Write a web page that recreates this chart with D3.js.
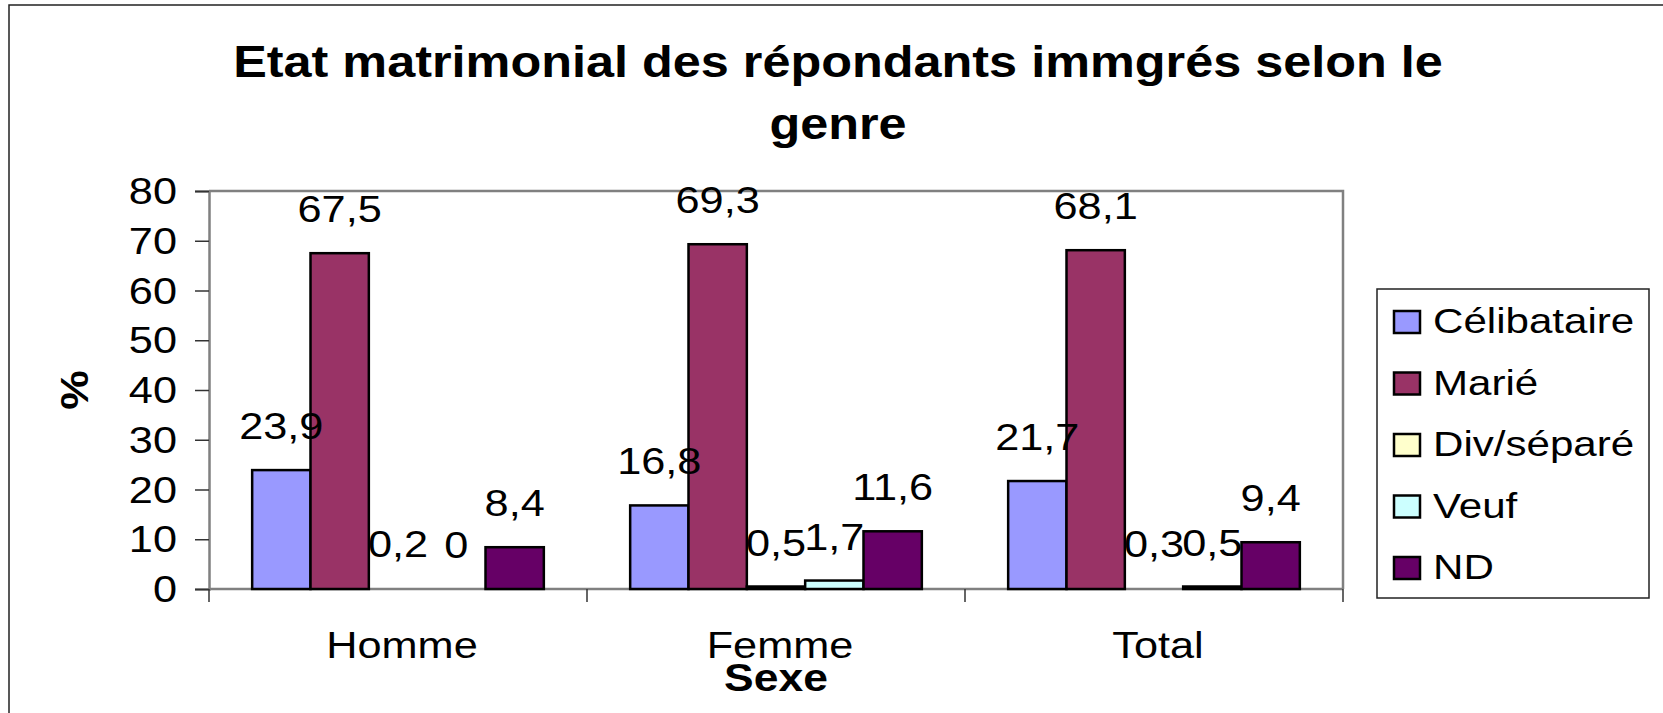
<!DOCTYPE html>
<html>
<head>
<meta charset="utf-8">
<script src="https://cdn.jsdelivr.net/npm/d3@7"></script>
<style>
  body { margin: 0; background: #fff; }
  text { font-family: Arial, "Liberation Sans", sans-serif; }
</style>
</head>
<body>
<div id="chart"></div>
<script>
// data
const categories = ["Homme", "Femme", "Total"];
const series = ["Célibataire", "Marié", "Div/séparé", "Veuf", "ND"];
const colors = ["#9999FF", "#993366", "#FFFFCC", "#CCFFFF", "#660066"];
const celibataire = [23.9, 16.8, 21.7];
const marie = [67.5, 69.3, 68.1];
const divSepare = [0.2, 0.5, 0.3];
const veuf = [0, 1.7, 0.5];
const nd = [8.4, 11.6, 9.4];
const yTicks = [0, 10, 20, 30, 40, 50, 60, 70, 80];

const values = [celibataire, marie, divSepare, veuf, nd];

const W = 1663, H = 713;
const plot = { left: 209, top: 191, right: 1343, bottom: 589 };
const SX = 1.17; // the source text is drawn a bit wider than Arial

const svg = d3.select("#chart").append("svg")
    .attr("width", W)
    .attr("height", H);

// helper: place a text horizontally widened
const place = (x, y, sx = SX) => `translate(${x},${y}) scale(${sx},1)`;

// outer chart frame
svg.append("rect")
    .attr("x", 9).attr("y", 5)
    .attr("width", W + 20).attr("height", H + 20)
    .attr("fill", "none")
    .attr("stroke", "#222")
    .attr("stroke-width", 1.5);

// scales
const x0 = d3.scaleBand()
    .domain(categories)
    .range([plot.left, plot.right]);

const x1 = d3.scaleBand()
    .domain(series)
    .range([0, x0.bandwidth()])
    .paddingOuter(0.74);

const y = d3.scaleLinear()
    .domain([0, 80])
    .range([plot.bottom, plot.top]);

// plot frame (top + right)
svg.append("path")
    .attr("d", `M${plot.left},${plot.top}H${plot.right}V${plot.bottom}`)
    .attr("fill", "none")
    .attr("stroke", "#808080")
    .attr("stroke-width", 2.5);

// y axis
const yAxis = svg.append("g")
    .attr("transform", `translate(${plot.left},0)`)
    .call(d3.axisLeft(y).tickValues(yTicks).tickSize(14));
yAxis.select(".domain").attr("stroke", "#808080").attr("stroke-width", 2.5);
yAxis.selectAll(".tick line").attr("stroke", "#333").attr("stroke-width", 1.5);
yAxis.selectAll(".tick text")
    .attr("x", null)
    .attr("transform", place(-32, 0))
    .attr("dy", "0.34em")
    .attr("font-size", 37)
    .attr("fill", "#000")
    .attr("font-family", "Arial, 'Liberation Sans', sans-serif");

// x axis line + category boundary ticks
svg.append("line")
    .attr("x1", plot.left).attr("x2", plot.right)
    .attr("y1", y(0)).attr("y2", y(0))
    .attr("stroke", "#808080")
    .attr("stroke-width", 2.5);

const bounds = categories.map(c => x0(c)).concat([x0(categories[categories.length - 1]) + x0.bandwidth()]);
svg.selectAll(".xtick")
  .data(bounds)
  .join("line")
    .attr("x1", d => d).attr("x2", d => d)
    .attr("y1", y(0)).attr("y2", y(0) + 13)
    .attr("stroke", "#333")
    .attr("stroke-width", 1.5);

svg.selectAll(".xlabel")
  .data(categories)
  .join("text")
    .attr("transform", d => place(x0(d) + x0.bandwidth() / 2 + 4, 658))
    .attr("text-anchor", "middle")
    .attr("font-size", 37)
    .text(d => d);

// bars
const barData = [];
categories.forEach((c, ci) => {
  series.forEach((s, si) => {
    barData.push({ cat: c, ser: s, si: si, v: values[si][ci] });
  });
});

svg.append("g")
  .selectAll("rect")
  .data(barData.filter(d => y(0) - y(d.v) >= 2))
  .join("rect")
    .attr("x", d => x0(d.cat) + x1(d.ser))
    .attr("y", d => y(d.v))
    .attr("width", x1.bandwidth())
    .attr("height", d => y(0) - y(d.v))
    .attr("fill", d => colors[d.si])
    .attr("stroke", "#000")
    .attr("stroke-width", 2.5);

// value labels
svg.append("g")
  .selectAll("text")
  .data(barData)
  .join("text")
    .attr("transform", d => place(x0(d.cat) + x1(d.ser) + x1.bandwidth() / 2, y(d.v) - 31))
    .attr("text-anchor", "middle")
    .attr("font-size", 37)
    .text(d => String(d.v).replace(".", ","));

// title
const titleLines = ["Etat matrimonial des répondants immgrés selon le", "genre"];
svg.selectAll(".title")
  .data(titleLines)
  .join("text")
    .attr("transform", (d, i) => place(838, 77 + i * 62, 1.12))
    .attr("text-anchor", "middle")
    .attr("font-size", 45)
    .attr("font-weight", "bold")
    .text(d => d);

// axis titles
svg.append("text")
    .attr("transform", `translate(88,${(plot.top + plot.bottom) / 2}) rotate(-90) scale(${SX},1)`)
    .attr("text-anchor", "middle")
    .attr("font-size", 38)
    .attr("font-weight", "bold")
    .text("%");

svg.append("text")
    .attr("transform", place((plot.left + plot.right) / 2, 691))
    .attr("text-anchor", "middle")
    .attr("font-size", 38)
    .attr("font-weight", "bold")
    .text("Sexe");

// legend
const legend = svg.append("g");
legend.append("rect")
    .attr("x", 1377).attr("y", 289)
    .attr("width", 272).attr("height", 309)
    .attr("fill", "#fff")
    .attr("stroke", "#222")
    .attr("stroke-width", 1.5);

const rows = legend.selectAll(".row")
  .data(series)
  .join("g")
    .attr("transform", (d, i) => `translate(1394,${311 + i * 61.5})`);
rows.append("rect")
    .attr("width", 26).attr("height", 22)
    .attr("fill", (d, i) => colors[i])
    .attr("stroke", "#000")
    .attr("stroke-width", 2.5);
rows.append("text")
    .attr("transform", place(39, 22))
    .attr("font-size", 36)
    .text(d => d);
</script>
</body>
</html>
